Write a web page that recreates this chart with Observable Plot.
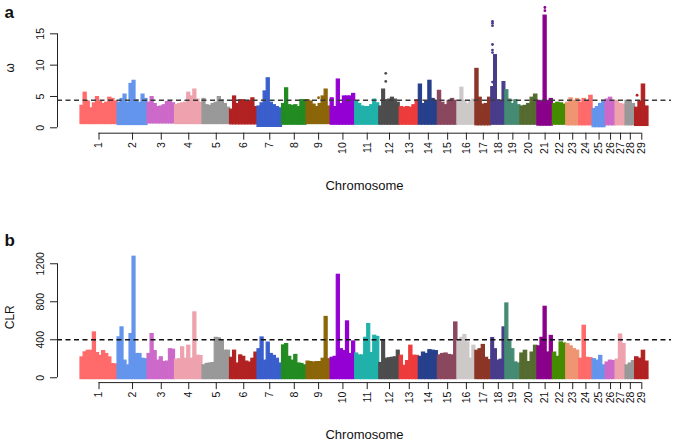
<!DOCTYPE html>
<html><head><meta charset="utf-8">
<script src="https://cdn.jsdelivr.net/npm/d3@7"></script>
<script src="https://cdn.jsdelivr.net/npm/@observablehq/plot@0.6"></script>
<style>
html,body{margin:0;padding:0;background:#fff;}
#chart{position:relative;width:673px;height:443px;overflow:hidden;background:#fff;}
#chart svg{position:absolute;left:0;display:block;overflow:visible;}
</style></head><body><div id="chart"></div>
<script>
// ---------- data ----------
const chromosomes = ["1","2","3","4","5","6","7","8","9","10","11","12","13","14","15","16","17","18","19","20","21","22","23","24","25","26","27","28","29"];
const chromLengthMb = [163,132,121,121,121,121,108,108,106,108,106,90,84,84,86,79,70,62,66,75,68,59,57,59,57,44,44,42,59];
const palette = ["#FF6A6A","#6495ED","#CD69C9","#EEA2AD","#999999","#B22222","#3A5FCD","#228B22","#8B6508","#9400D3","#20B2AA","#4D4D4D","#EE3B3B","#27408B","#8B475D","#CDC9C9","#8B3626","#483D8B","#458B74","#556B2F","#8B008B","#458B00","#EE9572"];

// panel a: omega, upper envelope of points per chromosome (evenly spaced windows)
const omegaTop = [
 [3.5,5.6,4.2,3.1,3.9,4.9,4.1,3.8,4.0,4.8,4.6,4.2],
 [4.0,4.6,5.3,4.0,7.0,7.5,4.4,4.0,5.3,4.6],
 [4.0,4.9,3.8,3.3,3.4,3.6,4.1,4.3,3.9],
 [3.6,3.8,3.9,4.0,5.6,5.0,6.1,4.5,4.0],
 [4.6,3.6,3.5,3.8,4.0,4.9,4.4,3.8,3.2],
 [2.9,5.0,3.8,4.4,4.4,4.1,4.3,4.7,3.3],
 [3.4,3.9,5.8,7.9,4.0,3.6,3.3,3.1],
 [3.8,6.3,3.6,3.5,3.6,3.3,4.4,4.4],
 [4.4,4.2,3.7,3.3,3.8,5.0,6.1,3.4],
 [4.7,3.3,7.7,3.8,5.0,5.0,5.0,5.4],
 [4.2,3.8,3.4,3.3,3.3,3.6,4.5,3.9],
 [3.4,6.1,4.4,4.5,4.8,4.5,4.0],
 [3.3,3.2,3.3,3.2,3.6,4.4],
 [6.9,3.8,4.2,7.5,4.6,4.3],
 [5.9,4.0,3.6,4.3,4.6,4.3],
 [4.2,6.4,4.3,3.8,4.3,4.5],
 [9.4,4.8,3.7,3.8,4.8],
 [6.5,11.6,4.4,4.2,7.3],
 [6.0,4.5,3.8,4.4,3.6],
 [3.4,3.5,3.8,4.8,5.3],
 [4.3,4.2,17.9,4.3,4.6],
 [3.8,4.0,3.9,3.7],
 [4.0,4.7,4.3,4.6],
 [4.0,4.6,4.3,5.1],
 [3.0,3.3,3.8,4.3],
 [4.5,4.8,4.1],
 [4.3,3.8,3.7],
 [4.3,4.2,3.8],
 [3.2,4.2,6.9,3.4]
];
// lower edge of the point cloud per chromosome
const omegaFloor = [0.6,0.45,0.7,0.6,0.6,0.55,0.15,0.5,0.6,0.5,0.5,0.5,0.5,0.5,0.5,0.5,0.4,0.5,0.5,0.5,0.35,0.5,0.4,0.4,0.1,0.4,0.4,0.4,0.3];
// isolated points: [chromosome, position within chromosome (Mb), omega]
const omegaOutliers = [
 ["9",52.8,4.8],
 ["12",28.6,8.7],["12",28.6,7.4],
 ["18",5.3,17.0],["18",5.3,16.7],["18",5.3,16.3],["18",5.3,13.3],["18",5.3,12.4],["18",5.3,12.0],["18",5.3,7.3],
 ["21",33,19.2],["21",33,18.7],
 ["29",8.8,5.2]
];
const omegaCut = 4.4;
const omegaTicks = [0,5,10,15];

// panel b: CLR upper envelope per chromosome
const clrTop = [
 [214,267,284,284,477,260,230,280,250,214,144,140],
 [425,530,180,130,460,1274,250,250,200,195],
 [250,460,280,180,215,165,170,300,295],
 [190,195,320,200,337,200,688,232,228],
 [130,145,150,155,420,415,395,285,285],
 [210,285,150,235,220,170,160,200,265],
 [300,424,180,370,250,230,200,150],
 [340,354,220,180,240,150,145,130],
 [170,165,160,165,165,200,640,195],
 [210,220,1084,300,280,593,250,382],
 [255,235,235,420,565,260,442,430],
 [155,395,200,205,210,215,285],
 [232,126,175,337,232,230],
 [220,265,250,290,285,280],
 [235,250,255,240,235,582],
 [390,420,450,372,200,337],
 [284,300,345,210,185],
 [418,300,180,190,530],
 [782,390,300,161,150],
 [255,284,165,265,337],
 [330,420,747,266,440],
 [265,220,372,360],
 [355,330,300,285],
 [200,547,210,205],
 [195,180,230,130],
 [160,180,175],
 [190,455,355],
 [130,150,175],
 [215,200,284,170]
];
const clrFloor = -14;
const clrCut = 400;
const clrTicks = [0,400,800,1200];

// ---------- layout helpers ----------
const FONT = "'Liberation Sans', Arial, Helvetica, sans-serif";
const offsets = [];
{ let acc = 0; for (const L of chromLengthMb) { offsets.push(acc); acc += L; } }
const totalMb = d3.sum(chromLengthMb);
const centers = chromLengthMb.map((L, i) => offsets[i] + L / 2);
const labelAt = new Map(centers.map((c, i) => [c, chromosomes[i]]));
const ext = 0.0405 * totalMb;
const xDomain = [-ext, totalMb + ext];
const colorOf = i => palette[i % palette.length];

function windows(tops, floor) {
  const out = [];
  tops.forEach((arr, i) => {
    const n = arr.length, L = chromLengthMb[i], o = offsets[i];
    arr.forEach((v, j) => out.push({
      x1: o + L * j / n, x2: o + L * (j + 1) / n,
      y1: Array.isArray(floor) ? floor[i] : floor, y2: v, color: colorOf(i)
    }));
  });
  return out;
}
const winA = windows(omegaTop, omegaFloor);
const winB = windows(clrTop, clrFloor);
const outA = omegaOutliers.map(([c, p, v]) => {
  const i = chromosomes.indexOf(c);
  return {x: offsets[i] + p, y: v, color: colorOf(i)};
});

function panel({height, marginTop, marginBottom, yDomain, data, dots, cut, cutColor, cutWidth, ticks, yTop, ylab, letter, letterDy}) {
  return Plot.plot({
    width: 673, height, marginLeft: 57, marginRight: 2, marginTop, marginBottom,
    style: {fontFamily: FONT, fontSize: "10.5px", background: "transparent", color: "#111"},
    x: {domain: xDomain},
    y: {domain: yDomain},
    color: {type: "identity"},
    marks: [
      Plot.rect(data, {x1: "x1", x2: "x2", y1: "y1", y2: "y2", fill: "color", stroke: "color", strokeWidth: 1.2}),
      Plot.dot(dots, {x: "x", y: "y", r: 1.4, fill: "color"}),
      Plot.ruleY([cut], {stroke: cutColor, strokeWidth: cutWidth, strokeDasharray: "5,3.5"}),
      Plot.ruleY([yDomain[0]], {x1: centers[0], x2: centers[centers.length - 1], stroke: "#222"}),
      Plot.ruleX([xDomain[0]], {y1: 0, y2: yTop, stroke: "#222"}),
      Plot.axisX(centers, {tickSize: 7, tickRotate: -90, tickPadding: 2, tickFormat: d => labelAt.get(d), fontSize: 10.5, label: null, stroke: "#222"}),
      Plot.axisY(ticks, {tickSize: 7, tickRotate: -90, tickPadding: 7, tickFormat: d => String(d), fontSize: 10.5, label: null, stroke: "#222"}),
      Plot.text([letter], {text: d => d, frameAnchor: "top-left", dx: -53, dy: letterDy, fontSize: 17, fontWeight: "bold", textAnchor: "start", lineAnchor: "bottom"}),
      Plot.text([ylab], {text: d => d, frameAnchor: "left", dx: -47, rotate: -90, fontSize: 12, textAnchor: "middle", lineAnchor: "middle"}),
      Plot.text(["Chromosome"], {text: d => d, frameAnchor: "bottom", dy: 56.8, fontSize: 13, textAnchor: "middle", lineAnchor: "bottom"})
    ]
  });
}

const svgA = panel({height: 200, marginTop: 2, marginBottom: 67.3, yDomain: [-0.86, 20.0], data: winA, dots: outA,
  cut: omegaCut, cutColor: "#3c3c3c", cutWidth: 1.6, ticks: omegaTicks, yTop: 15, ylab: "ω", letter: "a", letterDy: 15.5});
const svgB = panel({height: 243, marginTop: 51.4, marginBottom: 60.9, yDomain: [-51, 1325], data: winB, dots: [],
  cut: clrCut, cutColor: "#111", cutWidth: 1.3, ticks: clrTicks, yTop: 1200, ylab: "CLR", letter: "b", letterDy: -6.4});
svgA.style.top = "0px";
svgB.style.top = "200px";
const chart = document.getElementById("chart");
chart.appendChild(svgA);
chart.appendChild(svgB);
</script></body></html>
